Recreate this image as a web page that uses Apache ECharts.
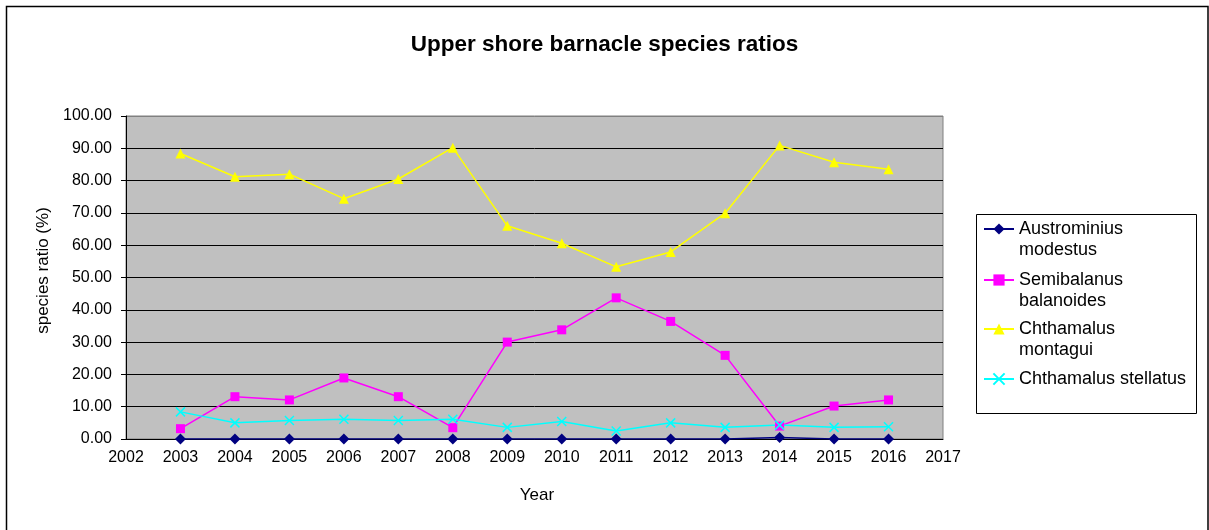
<!DOCTYPE html>
<html>
<head>
<meta charset="utf-8">
<script src="https://cdn.jsdelivr.net/npm/echarts@6/dist/echarts.min.js"></script>
<style>
html,body{margin:0;padding:0;background:#fff;}
#c{width:1209px;height:530px;}
</style>
</head>
<body>
<div id="c"></div>
<script>
const years = [2003,2004,2005,2006,2007,2008,2009,2010,2011,2012,2013,2014,2015,2016];
const austrominius = [0,0,0,0,0,0,0,0,0,0,0,0.5,0,0];
const semibalanus = [3.2,13.1,12.1,18.9,13.1,3.5,30.0,33.8,43.7,36.4,25.9,4.0,10.2,12.1];
const montagui = [88.4,81.2,82.0,74.4,80.5,90.2,66.0,60.6,53.3,57.9,69.9,90.9,85.7,83.5];
const stellatus = [8.4,5.0,5.7,6.1,5.7,6.1,3.6,5.4,2.5,5.0,3.6,4.3,3.6,3.8];
const seriesNames = ['Austrominius modestus','Semibalanus balanoides','Chthamalus montagui','Chthamalus stellatus'];
const legendLabels = ['\nAustrominius\nmodestus','\nSemibalanus\nbalanoides','\nChthamalus\nmontagui','Chthamalus stellatus'];
const yTicks = [0,10,20,30,40,50,60,70,80,90,100];

const pair = arr => years.map((y,i)=>[y,arr[i]]);
const FONT = '"Liberation Sans", Arial, sans-serif';
const xPath = 'path://M0,0L10,10M10,0L0,10';

const chart = echarts.init(document.getElementById('c'), null, {renderer:'canvas'});

function mkLegend(idx, top){
  return {
    data: [seriesNames[idx]],
    left: 983, top: top, padding: 0,
    itemWidth: 30, itemHeight: 14, itemGap: 5,
    orient: 'vertical',
    formatter: () => legendLabels[idx],
    textStyle: {fontFamily: FONT, fontSize: 18, color:'#000', lineHeight: 21},
    selectedMode: false
  };
}

const splitColors = yTicks.map((t,i)=> i === yTicks.length-1 ? '#808080' : '#000000');

chart.setOption({
  animation: false,
  backgroundColor: '#ffffff',
  title: {
    text: 'Upper shore barnacle species ratios',
    left: 'center', top: 28,
    textStyle: {fontFamily: FONT, fontSize: 22.5, fontWeight: 'bold', color:'#000'}
  },
  grid: {
    left: 126, top: 116, right: 266, bottom: 91,
    show: true, backgroundColor: '#C0C0C0', borderColor: '#808080', borderWidth: 1
  },
  legend: [
    mkLegend(0, 197.5),
    mkLegend(1, 248.5),
    mkLegend(2, 297.5),
    mkLegend(3, 368.5)
  ],
  graphic: [
    {type:'rect', shape:{x:6.5, y:6.5, width:1201.5, height:540}, style:{fill:'none', stroke:'#000', lineWidth:1.5}, z: 100},
    {type:'rect', shape:{x:976.5, y:214.5, width:220, height:199}, style:{fill:'none', stroke:'#000', lineWidth:1}, z: 100}
  ],
  xAxis: {
    type: 'value', min: 2002, max: 2017, interval: 1,
    name: 'Year', nameLocation: 'middle', nameGap: 48,
    nameTextStyle: {fontFamily: FONT, fontSize: 17, color:'#000', padding:[0,0,0,5]},
    axisLine: {show: true, onZero: false, lineStyle:{color:'#000', width:1}},
    axisTick: {show: false},
    axisLabel: {fontFamily: FONT, fontSize: 16, color:'#000', margin: 11, formatter: v => String(v)},
    splitLine: {show: false}
  },
  yAxis: {
    type: 'value', min: 0, max: 100, interval: 10,
    name: 'species ratio (%)', nameLocation: 'middle', nameGap: 74, nameRotate: 90,
    nameTextStyle: {fontFamily: FONT, fontSize: 17, color:'#000', padding:[0,0,0,14]},
    axisLine: {show: true, lineStyle:{color:'#000', width:1}},
    axisTick: {show: true, inside: false, length: 5, lineStyle:{color:'#000'}},
    axisLabel: {fontFamily: FONT, fontSize: 16, color:'#000', margin: 14, formatter: v => v.toFixed(2)},
    splitLine: {show: true, lineStyle:{color: splitColors, width: 1}}
  },
  series: [
    {
      name: seriesNames[0], type: 'line', data: pair(austrominius),
      symbol: 'diamond', symbolSize: 11, showAllSymbol: true,
      lineStyle: {color:'#000080', width: 1.5},
      itemStyle: {color:'#000080'}
    },
    {
      name: seriesNames[1], type: 'line', data: pair(semibalanus),
      symbol: 'rect', symbolSize: 9,
      lineStyle: {color:'#FF00FF', width: 1.5},
      itemStyle: {color:'#FF00FF'}
    },
    {
      name: seriesNames[2], type: 'line', data: pair(montagui),
      symbol: 'triangle', symbolSize: 10,
      lineStyle: {color:'#FFFF00', width: 1.5},
      itemStyle: {color:'#FFFF00'}
    },
    {
      name: seriesNames[3], type: 'line', data: pair(stellatus),
      symbol: xPath, symbolSize: 9,
      lineStyle: {color:'#00FFFF', width: 1.5},
      itemStyle: {color:'none', borderColor:'#00FFFF', borderWidth: 1.5}
    }
  ]
});
</script>
</body>
</html>
